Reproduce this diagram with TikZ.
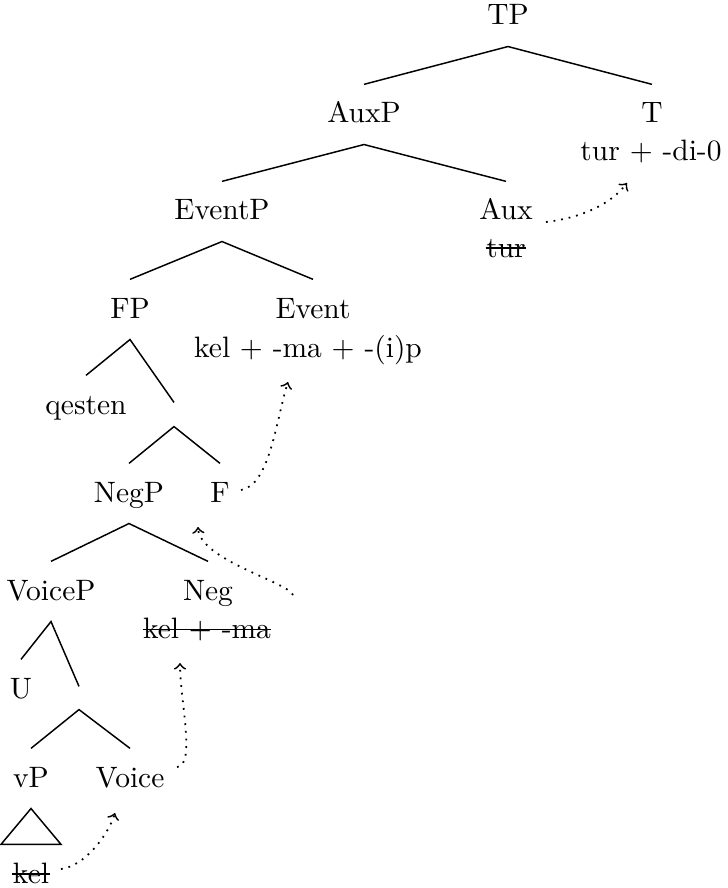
\documentclass[tikz,border=0pt]{standalone}
\usetikzlibrary{calc}
\begin{document}
\begin{tikzpicture}[x=0.339pt,y=-0.339pt,
  lab/.style={inner xsep=0pt,inner ysep=0pt,text height=12.9pt,text depth=7.1pt,anchor=base},
  sub/.style={inner sep=0pt,anchor=base},
  gap/.style={inner sep=0pt,minimum width=0pt,text height=0pt,text depth=0pt},
  edge/.style={line width=0.5pt},
  mv/.style={->,dotted,line width=0.6pt},
  strike/.style={line width=0.45pt}]
\useasboundingbox (0,0) rectangle (728,888);
% nodes
\node[lab] (TP) at (508,25) {TP};
\node[lab] (AuxP) at (364,123) {AuxP};
\node[lab] (T) at (652,123) {T};
\node[sub] (Tw) at (651,160) {tur + -di-0};
\node[lab] (EventP) at (222,220) {EventP};
\node[lab] (Aux) at (506,220) {Aux};
\node[sub] (tur) at (506,257) {tur};
\node[lab] (FP) at (130,318) {FP};
\node[lab] (Event) at (313,318) {Event};
\node[sub] (Ew) at (308,357) {kel + -ma + -(i)p};
\node[lab] (qesten) at (86,414) {qesten};
\node[gap,minimum height=7.8pt] (e1) at (174,414.5) {};
\node[lab] (NegP) at (129,502) {NegP};
\node[lab] (F) at (220,502) {F};
\node[lab] (VoiceP) at (51,600) {VoiceP};
\node[lab] (Neg) at (208,600) {Neg};
\node[sub] (Nw) at (207,638) {kel + -ma};
\node[lab] (U) at (21,698) {U};
\node[gap,minimum height=7.46pt] (e2) at (79,698) {};
\node[lab] (vP) at (31,787) {vP};
\node[lab] (Voice) at (130,787) {Voice};
\node[lab] (kel) at (31,883) {kel};
% tree edges
\draw[edge] (AuxP.north) -- (TP.south) -- (T.north);
\draw[edge] (EventP.north) -- (AuxP.south) -- (Aux.north);
\draw[edge] (FP.north) -- (EventP.south) -- (Event.north);
\draw[edge] (qesten.north) -- (FP.south) -- (e1.north);
\draw[edge] (NegP.north) -- (e1.south) -- (F.north);
\draw[edge] (VoiceP.north) -- (NegP.south) -- (Neg.north);
\draw[edge] (U.north) -- (VoiceP.south) -- (e2.north);
\draw[edge] (vP.north) -- (e2.south) -- (Voice.north);
\draw[edge] (vP.south) -- ($(kel.north)+(-30,0)$) -- ($(kel.north)+(30,0)$) -- cycle;
% strike-throughs
\draw[strike] ([yshift=3pt]tur.base west) -- ([yshift=3pt]tur.base east);
\draw[strike] ([yshift=2.8pt]Nw.base west) -- ([yshift=2.8pt]Nw.base east);
\draw[strike] ([yshift=3pt]kel.base west) -- ([yshift=3pt]kel.base east);
% movement arrows
\coordinate (k1) at (61,869);
\coordinate (v1) at (115,813);
\coordinate (v2) at (177,767);
\coordinate (n1) at (180,663);
\coordinate (n2) at (293,595);
\coordinate (f1) at (198,527);
\coordinate (f2) at (241,490);
\coordinate (ev1) at (288,382);
\coordinate (a1) at (546,222);
\coordinate (t1) at (627,183);
\draw[mv] (k1) .. controls (85,866) and (108,835) .. (v1);
\draw[mv] (v2) .. controls (196,766) and (180,700) .. (n1);
\draw[mv] (n2) .. controls (288,582) and (200,560) .. (f1);
\draw[mv] (f2) .. controls (270,485) and (276,420) .. (ev1);
\draw[mv] (a1) .. controls (580,218) and (610,205) .. (t1);
\end{tikzpicture}
\end{document}
